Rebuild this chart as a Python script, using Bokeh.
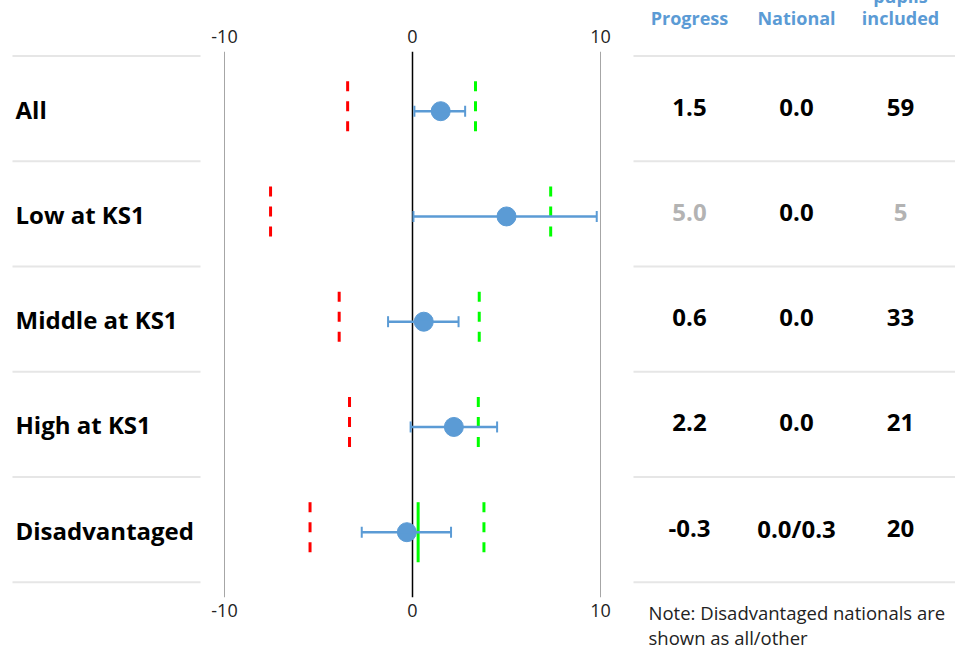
from bokeh.plotting import figure
from bokeh.models import Range1d, LinearAxis, FixedTicker, Span, Whisker, ColumnDataSource, TeeHead
from bokeh.core.properties import value
from bokeh.embed import file_html
from bokeh.resources import INLINE

# ---------------- data ----------------
groups = ["All", "Low at KS1", "Middle at KS1", "High at KS1", "Disadvantaged"]
progress = [1.5, 5.0, 0.6, 2.2, -0.3]
ci_lower = [0.1, 0.05, -1.3, -0.1, -2.7]
ci_upper = [2.8, 9.8, 2.45, 4.5, 2.05]
lower_band = [-3.45, -7.55, -3.9, -3.35, -5.45]
upper_band = [3.35, 7.35, 3.55, 3.5, 3.8]
disadv_national_group = "Disadvantaged"
disadv_national_value = 0.3
progress_text = ["1.5", "5.0", "0.6", "2.2", "-0.3"]
national_text = ["0.0", "0.0", "0.0", "0.0", "0.0/0.3"]
pupils_included = ["59", "5", "33", "21", "20"]
small_group = [False, True, False, False, False]
header_labels = ["Progress", "National", "included"]
x_ticks = [-10, 0, 10]
x_tick_labels = ["-10", "0", "10"]
note_lines = ["Note: Disadvantaged nationals are", "shown as all/other"]

# ---------------- layout constants (pixels) ----------------
W, H = 955, 652
PX_PER_X = 18.8
X0_PAGE = 412.0            # page x of value 0
CANVAS_LEFT = 0.0
PX_PER_ROW = 105.25
ROW0_PAGE = 110.7
CANVAS_TOP = 0.0
FRAME_TOP, FRAME_BOTTOM = 51.0, 597.0
TEXT_SHIFT = -8.0


def dx(page_x):
    return (page_x - X0_PAGE) / PX_PER_X


def dy(page_y):
    return (page_y - ROW0_PAGE) / PX_PER_ROW


def ty(page_y):
    return dy(page_y + TEXT_SHIFT)


BLUE = "#5b9bd5"
FONT = value("Open Sans")

rows = list(range(len(groups)))
half = 30.0 / PX_PER_ROW

p = figure(width=W, height=H,
           x_range=Range1d(dx(CANVAS_LEFT), dx(CANVAS_LEFT + W)),
           y_range=Range1d(dy(FRAME_BOTTOM), dy(FRAME_TOP)),
           output_backend="svg", toolbar_location=None,
           x_axis_location="below", y_axis_location=None,
           min_border_left=0, min_border_right=0,
           min_border_top=int(FRAME_TOP - CANVAS_TOP),
           min_border_bottom=int(CANVAS_TOP + H - FRAME_BOTTOM))
p.outline_line_color = None
p.ygrid.visible = False
p.xgrid.ticker = FixedTicker(ticks=[x_ticks[0], x_ticks[-1]])
p.xgrid.grid_line_color = "#a6a6a6"
p.xgrid.grid_line_width = 1

top_axis = LinearAxis()
p.add_layout(top_axis, "above")
for ax in p.xaxis:
    ax.ticker = FixedTicker(ticks=x_ticks)
    ax.major_label_overrides = {t: s for t, s in zip(x_ticks, x_tick_labels)}
    ax.axis_line_color = None
    ax.major_tick_line_color = None
    ax.minor_tick_line_color = None
    ax.major_label_text_font = "Open Sans"
    ax.major_label_text_font_size = "18px"
    ax.major_label_text_color = "#222222"
    ax.major_label_standoff = 3
p.below[0].major_label_standoff = 0

# zero line
p.add_layout(Span(location=0, dimension="height", line_color="black",
                  line_width=1.5, level="underlay"))

# row separators (left label column and right table)
sep_y = [k - 0.525 for k in range(len(groups) + 1)]
p.segment(x0=[dx(12)] * len(sep_y), x1=[dx(200)] * len(sep_y), y0=sep_y, y1=sep_y,
          line_color="#e6e6e6", line_width=2)
p.segment(x0=[dx(633)] * len(sep_y), x1=[dx(CANVAS_LEFT + W)] * len(sep_y), y0=sep_y, y1=sep_y,
          line_color="#e6e6e6", line_width=2)

src = ColumnDataSource(dict(y=rows, prog=progress, lo=ci_lower, hi=ci_upper,
                            lb=lower_band, ub=upper_band,
                            top=[r - half for r in rows], bot=[r + half for r in rows]))

# error bars
p.add_layout(Whisker(source=src, base="y", lower="lo", upper="hi", dimension="width",
                     line_color=BLUE, line_width=2.5, level="glyph",
                     upper_head=TeeHead(size=11, line_color=BLUE, line_width=2),
                     lower_head=TeeHead(size=11, line_color=BLUE, line_width=2)))

p.scatter(x="prog", y="y", source=src, size=19, fill_color=BLUE, line_color=BLUE)

# band lines
p.segment(x0="lb", x1="lb", y0="top", y1="bot", source=src,
          line_color="#ff0000", line_width=3, line_dash="10 10")
p.segment(x0="ub", x1="ub", y0="top", y1="bot", source=src,
          line_color="#00ff00", line_width=3, line_dash="10 10")
di = groups.index(disadv_national_group)
p.segment(x0=[disadv_national_value], x1=[disadv_national_value],
          y0=[di - half], y1=[di + half], line_color="#00ff00", line_width=3)

# left labels
p.text(x=[dx(15)] * len(groups), y=[r + (6 + TEXT_SHIFT) / PX_PER_ROW for r in rows], text=groups,
       text_font=FONT, text_font_style="bold", text_font_size="24px",
       text_color="black", text_baseline="alphabetic", text_align="left")

# table
col_x = [dx(689), dx(796), dx(900)]
val_color = ["#b3b3b3" if s else "black" for s in small_group]
for cx, texts, colors in [(col_x[0], progress_text, val_color),
                          (col_x[1], national_text, ["black"] * len(groups)),
                          (col_x[2], pupils_included, val_color)]:
    p.text(x=[cx] * len(groups), y=[r + (4 + TEXT_SHIFT) / PX_PER_ROW for r in rows], text=texts,
           text_font=FONT, text_font_style="bold", text_font_size="24px",
           text_color=colors, text_baseline="alphabetic", text_align="center")

hdr = p.text(x=col_x, y=[ty(25)] * 3, text=header_labels,
             text_font=FONT, text_font_style="bold", text_font_size="18px",
             text_color=BLUE, text_baseline="alphabetic", text_align="center")
hdr.level = "annotation"
hdr2 = p.text(x=[col_x[2]], y=[ty(3)], text=["pupils"],
              text_font=FONT, text_font_style="bold", text_font_size="18px",
              text_color=BLUE, text_baseline="alphabetic", text_align="center")
hdr2.level = "annotation"

note = p.text(x=[dx(648)] * 2, y=[ty(620), ty(645)], text=note_lines,
              text_font=FONT, text_font_size="18.5px", text_color="#222222",
              text_baseline="alphabetic", text_align="left")
note.level = "annotation"

open("out.html", "w").write(file_html(p, INLINE))
